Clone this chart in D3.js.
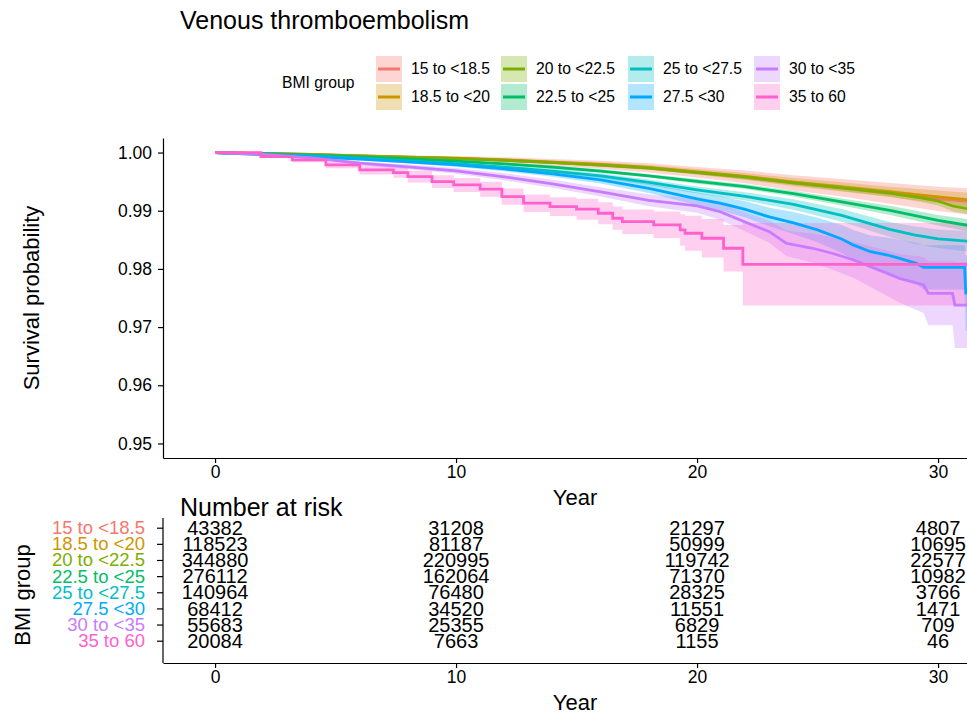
<!DOCTYPE html>
<html>
<head>
<meta charset="utf-8">
<script src="https://cdn.jsdelivr.net/npm/d3@7"></script>
<style>
  body { margin: 0; background: #fff; }
  svg text { font-family: "Liberation Sans", Arial, Helvetica, sans-serif; }
</style>
</head>
<body>
<div id="chart"></div>
<script>
// Kaplan-Meier curves for venous thromboembolism by BMI group, with risk table

// ---------------------------------------------------------------------------
// Data
// ---------------------------------------------------------------------------
const groups = ['15 to <18.5', '18.5 to <20', '20 to <22.5', '22.5 to <25',
                '25 to <27.5', '27.5 <30', '30 to <35', '35 to 60'];

// time in years, survival probability, half width of the 95% band
const timeG1 = [0, 2, 4, 6, 8, 10, 12, 14, 16, 18, 20, 22, 24, 26, 28, 30, 31.5];
const survG1 = [1, 0.99985, 0.99967, 0.99943, 0.99921, 0.99900, 0.99871, 0.99831, 0.99790, 0.99738, 0.99660, 0.99582, 0.99478, 0.99395, 0.99298, 0.99204, 0.99151];
const ciG1   = [0, 0.0001, 0.0002, 0.0003, 0.0003, 0.0004, 0.0005, 0.0006, 0.0007, 0.0008, 0.0009, 0.0011, 0.0013, 0.0015, 0.0018, 0.0021, 0.0023];

const timeG2 = [0, 2, 4, 6, 8, 10, 12, 14, 16, 18, 20, 22, 24, 26, 28, 30, 31.5];
const survG2 = [1, 0.99985, 0.99967, 0.99943, 0.99923, 0.99902, 0.99874, 0.99836, 0.99795, 0.99744, 0.99668, 0.99590, 0.99492, 0.99410, 0.99324, 0.99238, 0.99177];
const ciG2   = [0, 0.0001, 0.0001, 0.0002, 0.0002, 0.0002, 0.0003, 0.0003, 0.0004, 0.0004, 0.0005, 0.0006, 0.0007, 0.0008, 0.0009, 0.0011, 0.0012];

const timeG3 = [0, 2, 4, 6, 8, 10, 12, 14, 16, 18, 20, 22, 24, 26, 28, 29.3, 30, 30.6, 31.5];
const survG3 = [1, 0.99983, 0.99964, 0.99939, 0.99917, 0.99896, 0.99866, 0.99827, 0.99785, 0.99733, 0.99656, 0.99576, 0.99480, 0.99391, 0.99302, 0.99220, 0.99168, 0.99081, 0.99013];
const ciG3   = [0, 0.0001, 0.0001, 0.0001, 0.0001, 0.0002, 0.0002, 0.0002, 0.0003, 0.0003, 0.0003, 0.0004, 0.0004, 0.0005, 0.0006, 0.0007, 0.0008, 0.0009, 0.0010];

const timeG4 = [0, 2, 4, 6, 8, 10, 12, 14, 16, 18, 20, 22, 24, 26, 28, 30, 31.5];
const survG4 = [1, 0.99979, 0.99955, 0.99926, 0.99892, 0.99852, 0.99806, 0.99749, 0.99682, 0.99599, 0.99504, 0.99413, 0.99293, 0.99151, 0.99005, 0.98836, 0.98730];
const ciG4   = [0, 0.0001, 0.0001, 0.0001, 0.0002, 0.0002, 0.0002, 0.0003, 0.0003, 0.0003, 0.0004, 0.0004, 0.0005, 0.0006, 0.0008, 0.0009, 0.0011];

const timeG5 = [0, 2, 4, 6, 8, 10, 12, 14, 16, 18, 20, 22, 24, 26, 28, 29, 30, 31.5];
const survG5 = [1, 0.99974, 0.99943, 0.99900, 0.99857, 0.99809, 0.99750, 0.99680, 0.99599, 0.99487, 0.99358, 0.99246, 0.99108, 0.98919, 0.98678, 0.98583, 0.98518, 0.98466];
const ciG5   = [0, 0.0001, 0.0001, 0.0002, 0.0002, 0.0003, 0.0003, 0.0004, 0.0004, 0.0005, 0.0006, 0.0007, 0.0009, 0.0011, 0.0013, 0.0015, 0.0016, 0.0018];

const timeG6 = [0, 2, 4, 6, 8, 10, 12, 14, 16, 18, 20, 21, 22, 23, 24, 25, 26, 26.5, 27.2, 27.9, 28.4, 29.1, 29.4, 31.1, 31.15, 32];
const survG6 = [1, 0.99964, 0.99926, 0.99886, 0.99840, 0.99788, 0.99719, 0.99633, 0.99530, 0.99384, 0.99203, 0.99126, 0.99022, 0.98893, 0.98790, 0.98670, 0.98515, 0.98408, 0.98296, 0.98239, 0.98182, 0.98096, 0.98028, 0.98028, 0.97586, 0.97586];
const ciG6   = [0, 0.0001, 0.0002, 0.0002, 0.0003, 0.0003, 0.0004, 0.0005, 0.0006, 0.0008, 0.0011, 0.0012, 0.0014, 0.0016, 0.0019, 0.0021, 0.0024, 0.0026, 0.0028, 0.0030, 0.0032, 0.0035, 0.0038, 0.0038, 0.0065, 0.0065];

const timeG7 = [0, 2, 4, 6, 8, 10, 12, 14, 16, 18, 20, 20.95, 22.3, 23, 23.7, 24.8, 25.6, 26.5, 27.2, 27.9, 28.4, 29.4, 29.6, 30.6, 30.7, 32];
const survG7 = [1, 0.99969, 0.99909, 0.99818, 0.99754, 0.99686, 0.99583, 0.99463, 0.99325, 0.99179, 0.99084, 0.98985, 0.98756, 0.98640, 0.98441, 0.98355, 0.98269, 0.98153, 0.98038, 0.97924, 0.97838, 0.97723, 0.97580, 0.97580, 0.97379, 0.97379];
const ciG7   = [0, 0.0001, 0.0002, 0.0003, 0.0004, 0.0005, 0.0006, 0.0007, 0.0008, 0.0010, 0.0012, 0.0014, 0.0017, 0.0019, 0.0022, 0.0025, 0.0028, 0.0031, 0.0035, 0.0039, 0.0042, 0.0048, 0.0055, 0.0055, 0.0074, 0.0074];

// this group is drawn as a plain step function: each value is the level from its time on
const timeG8 = [0, 1.9, 3.2, 4.6, 6.0, 7.4, 8.0, 9.0, 9.9, 11.0, 11.9, 12.8, 13.9, 15.0, 15.9, 16.5, 16.9, 18.2, 19.3, 19.5, 20.2, 21.1, 21.9, 32];
const survG8 = [1, 0.99931, 0.99874, 0.99788, 0.99702, 0.99656, 0.99587, 0.99501, 0.99444, 0.99370, 0.99243, 0.99129, 0.99071, 0.99026, 0.98957, 0.98871, 0.98812, 0.98756, 0.98670, 0.98613, 0.98527, 0.98355, 0.98079, 0.98079];
const ciG8   = [0, 0.0002, 0.0004, 0.0006, 0.0008, 0.0009, 0.0010, 0.0011, 0.0012, 0.0013, 0.0014, 0.0015, 0.0016, 0.0018, 0.0019, 0.0020, 0.0021, 0.0023, 0.0027, 0.0030, 0.0033, 0.0040, 0.0071, 0.0071];

// number at risk at the table times, one row per group
const riskTimes = [0, 10, 20, 30];
const numberAtRisk = [
  [43382, 31208, 21297, 4807],
  [118523, 81187, 50999, 10695],
  [344880, 220995, 119742, 22577],
  [276112, 162064, 71370, 10982],
  [140964, 76480, 28325, 3766],
  [68412, 34520, 11551, 1471],
  [55683, 25355, 6829, 709],
  [20084, 7663, 1155, 46],
];

const xTicks = [0, 10, 20, 30];
const yTicks = [0.95, 0.96, 0.97, 0.98, 0.99, 1.00];

// ---------------------------------------------------------------------------
// Setup
// ---------------------------------------------------------------------------
const W = 967, H = 714;
const palette = ['#F8766D', '#CD9600', '#7CAE00', '#00BE67', '#00BFC4', '#00A9FF', '#C77CFF', '#FF61CC'];
const color = d3.scaleOrdinal().domain(groups).range(palette);
const steppedGroups = new Set(['35 to 60']);

const times = [timeG1, timeG2, timeG3, timeG4, timeG5, timeG6, timeG7, timeG8];
const survs = [survG1, survG2, survG3, survG4, survG5, survG6, survG7, survG8];
const cis   = [ciG1, ciG2, ciG3, ciG4, ciG5, ciG6, ciG7, ciG8];

const curves = groups.map((g, gi) => ({
  group: g,
  points: times[gi].map((t, i) => ({
    t: t,
    s: survs[gi][i],
    lo: survs[gi][i] - cis[gi][i],
    hi: Math.min(1, survs[gi][i] + cis[gi][i]),
  })),
}));

const plotLeft = 163;
const plotTop = 138, plotBottom = 458;

// the visible picture is cut on the right, the x range runs past the edge
const x = d3.scaleLinear().domain([-2.16, 45]).range([plotLeft, plotLeft + 47.16 * 24.1]);
const y = d3.scaleLinear().domain([0.9475, 1.0025]).range([plotBottom, plotTop]);

const svg = d3.select('#chart').append('svg')
  .attr('width', W)
  .attr('height', H)
  .style('display', 'block');

svg.append('defs').append('clipPath').attr('id', 'plotClip')
  .append('rect')
  .attr('x', plotLeft).attr('y', plotTop)
  .attr('width', W - plotLeft).attr('height', plotBottom - plotTop);

// ── Title ──────────────────────────────────────────────────────────────
svg.append('text')
  .attr('x', 180).attr('y', 29)
  .attr('font-size', '25px')
  .attr('fill', '#000')
  .text('Venous thromboembolism');

// ── Legend ─────────────────────────────────────────────────────────────
svg.append('text')
  .attr('x', 282).attr('y', 83)
  .attr('dy', '0.35em')
  .attr('font-size', '15.7px')
  .text('BMI group');

const legendColX = [376, 501, 628, 754];
const legendRowY = [56, 84];
const keySize = 26;
groups.forEach((g, i) => {
  const col = Math.floor(i / 2), row = i % 2;
  const kx = legendColX[col], ky = legendRowY[row];
  const item = svg.append('g');
  item.append('rect')
    .attr('x', kx).attr('y', ky)
    .attr('width', keySize).attr('height', keySize)
    .attr('fill', color(g)).attr('fill-opacity', 0.3);
  item.append('line')
    .attr('x1', kx + 2).attr('x2', kx + keySize - 2)
    .attr('y1', ky + keySize / 2).attr('y2', ky + keySize / 2)
    .attr('stroke', color(g)).attr('stroke-width', 3);
  item.append('text')
    .attr('x', kx + 35).attr('y', ky + keySize / 2)
    .attr('dy', '0.35em')
    .attr('font-size', '15.7px')
    .text(g);
});

// ── Survival curves ────────────────────────────────────────────────────
const plotG = svg.append('g').attr('clip-path', 'url(#plotClip)');

const curveOf = g => steppedGroups.has(g) ? d3.curveStepAfter : d3.curveLinear;

plotG.selectAll('path.band')
  .data(curves)
  .join('path')
  .attr('class', 'band')
  .attr('d', d => d3.area()
    .curve(curveOf(d.group))
    .x(p => x(p.t))
    .y0(p => y(p.lo))
    .y1(p => y(p.hi))(d.points))
  .attr('fill', d => color(d.group))
  .attr('fill-opacity', 0.3)
  .attr('stroke', 'none');

plotG.selectAll('path.km')
  .data(curves)
  .join('path')
  .attr('class', 'km')
  .attr('d', d => d3.line()
    .curve(curveOf(d.group))
    .x(p => x(p.t))
    .y(p => y(p.s))(d.points))
  .attr('fill', 'none')
  .attr('stroke', d => color(d.group))
  .attr('stroke-width', 2.8)
  .attr('stroke-linejoin', 'miter');

// ── Axes (main plot) ───────────────────────────────────────────────────
function styleAxis(g, size) {
  g.select('.domain').attr('stroke', '#000').attr('stroke-width', 1.2);
  g.selectAll('.tick line').attr('stroke', '#000').attr('stroke-width', 1.2);
  g.selectAll('.tick text')
    .attr('fill', '#000')
    .attr('font-size', size)
    .attr('font-family', '"Liberation Sans", Arial, Helvetica, sans-serif');
}

svg.append('g')
  .attr('transform', `translate(${plotLeft},0)`)
  .call(d3.axisLeft(y).tickValues(yTicks).tickFormat(d3.format('.2f'))
    .tickSize(5).tickPadding(6).tickSizeOuter(0))
  .call(g => styleAxis(g, '17.5px'));

svg.append('g')
  .attr('transform', `translate(0,${plotBottom})`)
  .call(d3.axisBottom(x).tickValues(xTicks).tickSize(5).tickPadding(3).tickSizeOuter(0))
  .call(g => styleAxis(g, '17.5px'));

svg.append('text')
  .attr('x', 575).attr('y', 497)
  .attr('dy', '0.35em')
  .attr('text-anchor', 'middle')
  .attr('font-size', '22px')
  .text('Year');

svg.append('text')
  .attr('transform', 'translate(31,298) rotate(-90)')
  .attr('dy', '0.35em')
  .attr('text-anchor', 'middle')
  .attr('font-size', '22px')
  .text('Survival probability');

// ── Risk table ─────────────────────────────────────────────────────────
const riskTop = 518, riskBottom = 663;
const yRisk = d3.scalePoint().domain(groups).range([527.7, 640.7]);

svg.append('text')
  .attr('x', 180).attr('y', 516)
  .attr('font-size', '25px')
  .text('Number at risk');

const riskAxis = svg.append('g')
  .attr('transform', `translate(${plotLeft},0)`)
  .call(d3.axisLeft(yRisk).tickSize(6).tickPadding(12).tickSizeOuter(0))
  .call(g => styleAxis(g, '18.5px'));
riskAxis.select('.domain').attr('d', `M0,${riskTop}V${riskBottom}`);
riskAxis.selectAll('.tick text').attr('fill', d => color(d));

const riskRows = svg.append('g');
groups.forEach((g, gi) => {
  riskTimes.forEach((t, ti) => {
    riskRows.append('text')
      .attr('x', x(t)).attr('y', yRisk(g))
      .attr('dy', '0.36em')
      .attr('text-anchor', 'middle')
      .attr('font-size', '20px')
      .attr('fill', '#000')
      .text(numberAtRisk[gi][ti]);
  });
});

svg.append('g')
  .attr('transform', `translate(0,${riskBottom})`)
  .call(d3.axisBottom(x).tickValues(xTicks).tickSize(5).tickPadding(3).tickSizeOuter(0))
  .call(g => styleAxis(g, '17.5px'));

svg.append('text')
  .attr('x', 575).attr('y', 702)
  .attr('dy', '0.35em')
  .attr('text-anchor', 'middle')
  .attr('font-size', '22px')
  .text('Year');

svg.append('text')
  .attr('transform', 'translate(22,595) rotate(-90)')
  .attr('dy', '0.35em')
  .attr('text-anchor', 'middle')
  .attr('font-size', '22px')
  .text('BMI group');
</script>
</body>
</html>
